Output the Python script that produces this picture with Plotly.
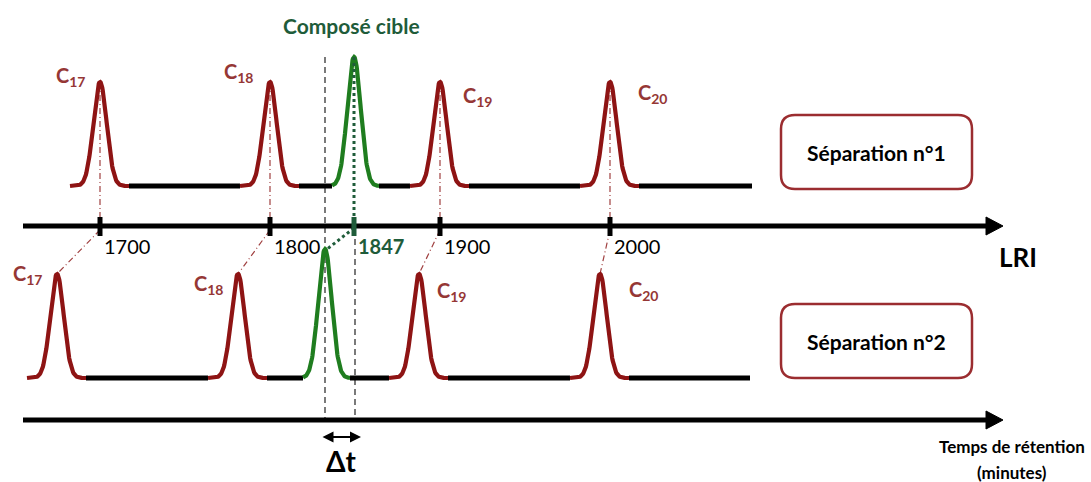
import numpy as np
import plotly.graph_objects as go

# ---------------- data ----------------
compounds = ["C17", "C18", "Cible", "C19", "C20"]
is_target = [False, False, True, False, False]
lri_values = [1700, 1800, 1847, 1900, 2000]
lri_labels = ["1700", "1800", "1847", "1900", "2000"]
rt_sep1 = [100, 270, 354, 440, 610]      # retention positions, separation 1
rt_sep2 = [57, 238, 325, 419, 600]       # retention positions, separation 2
peak_heights = [104, 104, 129, 104, 104]  # signal intensity (arbitrary units)

# ---------------- style ----------------
RED = "#8e1414"
GREEN = "#1f7d1f"
DGREEN = "#1f5c3a"
LBL_RED = "#953735"
BOX_RED = "#9b2d30"
FONT = "Lato"
SIGMA = 6.7

BASE1, BASE2 = 186, 378
AXIS1, AXIS2 = 226, 420
LINE_END1, LINE_END2 = 752, 750

fig = go.Figure()


def peak_xy(center, height, base, left, right):
    x = np.linspace(center - left, center + right, 120)
    y = base - height * np.exp(-((x - center) ** 2) / (2 * SIGMA ** 2))
    return x, y


def add_separation(rts, base, line_end):
    red_x, red_y, grn_x, grn_y = [], [], [], []
    blk_x, blk_y = [], []
    prev_end = None
    for rt, h, tgt in zip(rts, peak_heights, is_target):
        left, right = (22, 25) if tgt else (30, 29)
        x, y = peak_xy(rt, h, base, left, right)
        if tgt:
            grn_x += list(x) + [None]
            grn_y += list(y) + [None]
        else:
            red_x += list(x) + [None]
            red_y += list(y) + [None]
        if prev_end is not None:
            blk_x += [prev_end, rt - left, None]
            blk_y += [base, base, None]
        prev_end = rt + right
    blk_x += [prev_end, line_end, None]
    blk_y += [base, base, None]
    fig.add_trace(go.Scatter(x=blk_x, y=blk_y, mode="lines",
                             line=dict(color="black", width=5), hoverinfo="skip"))
    fig.add_trace(go.Scatter(x=red_x, y=red_y, mode="lines",
                             line=dict(color=RED, width=4.2), hoverinfo="skip"))
    fig.add_trace(go.Scatter(x=grn_x, y=grn_y, mode="lines",
                             line=dict(color=GREEN, width=4.2), hoverinfo="skip"))


# dashed reference lines (behind)
fig.add_trace(go.Scatter(x=[rt_sep2[2], rt_sep2[2]], y=[57, AXIS2], mode="lines",
                         line=dict(color="#333333", width=1.3, dash="6px,4px"),
                         hoverinfo="skip"))
fig.add_trace(go.Scatter(x=[rt_sep1[2] + 1, rt_sep1[2] + 1], y=[AXIS1 + 3, AXIS2], mode="lines",
                         line=dict(color="#333333", width=1.3, dash="6px,4px"),
                         hoverinfo="skip"))

# red dash-dot projection lines for alkanes
for r1, r2, h, tgt in zip(rt_sep1, rt_sep2, peak_heights, is_target):
    if tgt:
        continue
    fig.add_trace(go.Scatter(x=[r1, r1, None, r1, r2], y=[BASE1 - h, AXIS1, None, AXIS1 + 4, BASE2 - h],
                             mode="lines", line=dict(color="#a04040", width=1.2, dash="6px,3px,1px,3px"),
                             hoverinfo="skip"))

add_separation(rt_sep1, BASE1, LINE_END1)
add_separation(rt_sep2, BASE2, LINE_END2)

# green dotted line for target
t = is_target.index(True)
fig.add_trace(go.Scatter(x=[rt_sep1[t], rt_sep1[t], None, rt_sep1[t], rt_sep2[t] + 1],
                         y=[BASE1 - peak_heights[t], AXIS1, None, AXIS1 + 2, BASE2 - peak_heights[t] + 1],
                         mode="lines", line=dict(color=DGREEN, width=3, dash="dot"),
                         hoverinfo="skip"))

# axes with arrowheads
for ay in (AXIS1, AXIS2):
    fig.add_trace(go.Scatter(x=[23, 988], y=[ay, ay], mode="lines",
                             line=dict(color="black", width=5), hoverinfo="skip"))
    fig.add_trace(go.Scatter(x=[986, 1003, 986, 986], y=[ay - 9, ay, ay + 9, ay - 9],
                             mode="lines", fill="toself", fillcolor="black",
                             line=dict(color="black", width=1), hoverinfo="skip"))

# LRI ticks
for r, lab, tgt in zip(rt_sep1, lri_labels, is_target):
    col = DGREEN if tgt else "black"
    fig.add_trace(go.Scatter(x=[r, r], y=[AXIS1 - 9, AXIS1 + 10], mode="lines",
                             line=dict(color=col, width=5), hoverinfo="skip"))
    fig.add_annotation(x=r + 2, y=AXIS1 + 20, text=("<b>%s</b>" % lab) if tgt else lab,
                       showarrow=False, xanchor="left", yanchor="middle",
                       font=dict(family=FONT, size=20, color=DGREEN if tgt else "black"))

# compound labels
lbl1 = [(54, 76), (222, 72), None, (461, 96), (636, 93)]
lbl2 = [(11, 274), (192, 284), None, (435, 291), (627, 290)]
for name, p1, p2 in zip(compounds, lbl1, lbl2):
    if p1 is None:
        continue
    txt = "<b>C<sub>%s</sub></b>" % name[1:]
    for (lx, ly) in (p1, p2):
        fig.add_annotation(x=lx, y=ly, text=txt, showarrow=False, xanchor="left",
                           yanchor="middle", font=dict(family=FONT, size=20, color=LBL_RED))

fig.add_annotation(x=351, y=25, text="<b>Composé cible</b>", showarrow=False,
                   font=dict(family=FONT, size=21, color=DGREEN))
fig.add_annotation(x=1018, y=257, text="<b>LRI</b>", showarrow=False,
                   font=dict(family=FONT, size=26, color="black"))
fig.add_annotation(x=1012, y=446, text="<b>Temps de rétention</b>", showarrow=False,
                   font=dict(family=FONT, size=17, color="black"))
fig.add_annotation(x=1012, y=472, text="<b>(minutes)</b>", showarrow=False,
                   font=dict(family=FONT, size=17, color="black"))
fig.add_annotation(x=341, y=461, text="<b>Δt</b>", showarrow=False,
                   font=dict(family=FONT, size=28, color="black"))

# delta t arrow
fig.add_annotation(x=361, y=437, ax=321, ay=437, axref="x", ayref="y", xref="x", yref="y",
                   text="", showarrow=True, arrowhead=2, arrowside="end+start",
                   arrowsize=1.1, arrowwidth=2, arrowcolor="black")


# rounded boxes
def rounded(x0, y0, x1, y1, r):
    return (f"M{x0 + r},{y0} L{x1 - r},{y0} Q{x1},{y0} {x1},{y0 + r} "
            f"L{x1},{y1 - r} Q{x1},{y1} {x1 - r},{y1} L{x0 + r},{y1} "
            f"Q{x0},{y1} {x0},{y1 - r} L{x0},{y0 + r} Q{x0},{y0} {x0 + r},{y0} Z")


for (y0, y1, label) in ((115, 189, "Séparation n°1"), (304, 378, "Séparation n°2")):
    fig.add_shape(type="path", path=rounded(781, y0, 972, y1, 14),
                  line=dict(color=BOX_RED, width=2.5), fillcolor="white", layer="below")
    fig.add_annotation(x=876, y=(y0 + y1) / 2, text="<b>%s</b>" % label, showarrow=False,
                       font=dict(family=FONT, size=21, color="black"))

fig.update_layout(
    width=1091, height=482, margin=dict(l=0, r=0, t=0, b=0),
    paper_bgcolor="white", plot_bgcolor="white", showlegend=False,
    xaxis=dict(range=[0, 1091], visible=False, fixedrange=True),
    yaxis=dict(range=[482, 0], visible=False, fixedrange=True),
)

fig.write_html("out.html", config={"displayModeBar": False},
               post_script="document.body.style.margin='0';document.body.style.overflow='hidden';")
